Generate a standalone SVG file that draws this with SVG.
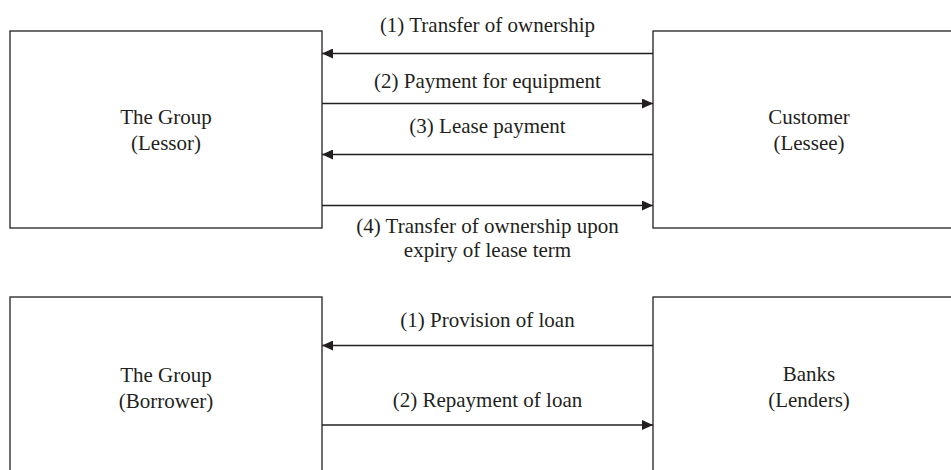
<svg xmlns="http://www.w3.org/2000/svg" width="951" height="470" viewBox="0 0 951 470">
<style>
.box{fill:#fff;stroke:#231f20;stroke-width:1.3}
.con{stroke:#231f20;stroke-width:1.3;fill:none;marker-end:url(#ah)}
text{font-family:"Liberation Serif","Times New Roman",serif;font-size:21px;fill:#231f20;text-anchor:middle}
</style>
<defs>
<marker id="ah" markerUnits="userSpaceOnUse" markerWidth="12" markerHeight="10" refX="11" refY="5" orient="auto">
<path d="M0,0 L11,5 L0,10 z" fill="#231f20"/>
</marker>
</defs>
<rect width="951" height="470" fill="#fff"/>
<g id="lessor">
<rect class="box" x="10" y="31" width="312" height="197"/>
<text x="166" y="123.5">The Group</text>
<text x="166" y="149.5">(Lessor)</text>
</g>
<g id="lessee">
<rect class="box" x="653" y="31" width="312" height="197"/>
<text x="809" y="123.5">Customer</text>
<text x="809" y="149.5">(Lessee)</text>
</g>
<g id="borrower">
<rect class="box" x="10" y="297" width="312" height="197"/>
<text x="166" y="381.5">The Group</text>
<text x="166" y="407.5">(Borrower)</text>
</g>
<g id="lenders">
<rect class="box" x="653" y="297" width="312" height="197"/>
<text x="809" y="381">Banks</text>
<text x="809" y="407">(Lenders)</text>
</g>
<g id="connectors">
<line class="con" x1="653" y1="53.5" x2="322" y2="53.5"/>
<text x="487.5" y="32">(1) Transfer of ownership</text>
<line class="con" x1="322" y1="103.5" x2="653" y2="103.5"/>
<text x="487.5" y="88">(2) Payment for equipment</text>
<line class="con" x1="653" y1="154.5" x2="322" y2="154.5"/>
<text x="487.5" y="133">(3) Lease payment</text>
<line class="con" x1="322" y1="205.5" x2="653" y2="205.5"/>
<text x="487.5" y="233">(4) Transfer of ownership upon</text>
<text x="487.5" y="256.5">expiry of lease term</text>
<line class="con" x1="653" y1="345.5" x2="322" y2="345.5"/>
<text x="487.5" y="327">(1) Provision of loan</text>
<line class="con" x1="322" y1="425" x2="653" y2="425"/>
<text x="487.5" y="407">(2) Repayment of loan</text>
</g>
</svg>
